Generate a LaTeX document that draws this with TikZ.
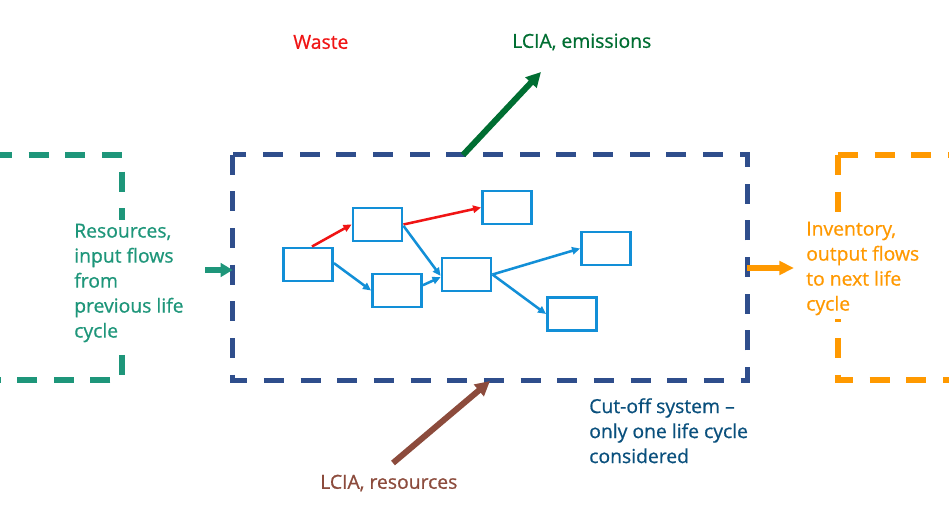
\documentclass[tikz,border=0pt]{standalone}
\usepackage{fontspec}
\setmainfont{Open Sans}[UprightFeatures={FakeBold=0.7}]
\usetikzlibrary{arrows.meta}
\definecolor{teal1}{RGB}{30,150,122}
\definecolor{navy1}{RGB}{47,78,140}
\definecolor{orng}{RGB}{255,153,0}
\definecolor{cyan1}{RGB}{18,143,215}
\definecolor{red1}{RGB}{240,20,20}
\definecolor{dgreen}{RGB}{0,110,50}
\definecolor{brown1}{RGB}{140,75,60}
\definecolor{cutblue}{RGB}{10,80,125}
\begin{document}
\begin{tikzpicture}[x=0.75pt,y=-0.75pt,
  proc/.style={draw=cyan1,line width=2.2pt,minimum width=49*0.75pt,minimum height=33*0.75pt,inner sep=0pt},
  flow/.style={line width=1.9pt,-{Triangle[length=6pt,width=5.5pt]}},
  bigarrow/.style={line width=4.5pt,-{Triangle[length=11pt,width=11pt]}},
  dashbox/.style={line width=3.8pt,dash pattern=on 15pt off 12.5pt},
  lab/.style={font=\fontsize{14.5}{18.75}\selectfont,inner sep=0pt},
  blk/.style={font=\fontsize{14.5}{18.75}\selectfont,align=left,fill=white,inner sep=3pt}]
\useasboundingbox (0,0) rectangle (949,516);
\fill[white] (0,0) rectangle (949,516);
% dashed boxes
\coordinate (g1) at (0,155);
\coordinate (g2) at (122,155);
\coordinate (g3) at (122,380);
\coordinate (g4) at (0,380);
\draw[dashbox,draw=teal1,dash phase=6pt] (g1) -- (g2) -- (g3) -- (g4);
\coordinate (o1) at (949,155);
\coordinate (o2) at (838,155);
\coordinate (o3) at (838,380);
\coordinate (o4) at (949,380);
\draw[dashbox,draw=orng] (o2) -- (o1);
\draw[dashbox,draw=orng] (o2) -- (o3) -- (o4);
\node[draw=none,minimum width=514*0.75pt,minimum height=225*0.75pt] (sys) at (490,267.5) {};
\draw[dashbox,draw=navy1] (sys.north west) rectangle (sys.south east);
% side texts
\node[blk,text=teal1,anchor=west] (res) at (70,283) {Resources,\\input flows\\from\\previous life\\cycle};
\node[blk,text=orng,anchor=west] (inv) at (802,268.5) {Inventory,\\output flows\\to next life\\cycle};
% process boxes
\node[proc] (A) at (308,264.5) {};
\node[proc] (B) at (377.5,224.5) {};
\node[proc] (C) at (397,290.5) {};
\node[proc] (D) at (466.5,274.5) {};
\node[proc] (E) at (507,207.5) {};
\node[proc] (F) at (606,248.5) {};
\node[proc] (G) at (572,314) {};
\draw[flow,red1] ([xshift=3pt]A.north) -- (B.west);
\draw[flow,red1] (B.east) -- (E.west);
\draw[flow,cyan1] ([yshift=1pt]A.east) -- (C.west);
\draw[flow,cyan1] ([yshift=-1pt]B.east) -- ([yshift=-1pt]D.west);
\draw[flow,cyan1] ([yshift=4pt]C.east) -- ([yshift=-2pt]D.west);
\draw[flow,cyan1] (D.east) -- (F.west);
\draw[flow,cyan1] (D.east) -- (G.west);
% big arrows
\coordinate (inS) at (205,270);
\draw[bigarrow,teal1,line width=4pt,-{Triangle[length=9pt,width=10pt]}] (inS) -- (sys.west |- inS);
\coordinate (outE) at (794,268);
\draw[bigarrow,orng,line width=4pt,-{Triangle[length=11pt,width=10pt]}] (sys.east |- outE) -- (outE);
\coordinate (emS) at (463,155);
\coordinate (emE) at (541,72);
\draw[bigarrow,dgreen] (emS) -- (emE);
\coordinate (rsS) at (393,463);
\coordinate (rsE) at (490,381);
\draw[bigarrow,brown1] (rsS) -- (rsE);
% labels
\node[lab,text=red1,anchor=west] (waste) at (293,42) {Waste};
\node[lab,text=dgreen,anchor=west] (em) at (512,42) {LCIA, emissions};
\node[lab,text=brown1,anchor=west] (rs) at (320,483) {LCIA, resources};
\node[lab,text=cutblue,anchor=north west,align=left] (cut) at (589,398) {Cut-off system –\\only one life cycle\\considered};
\end{tikzpicture}
\end{document}
